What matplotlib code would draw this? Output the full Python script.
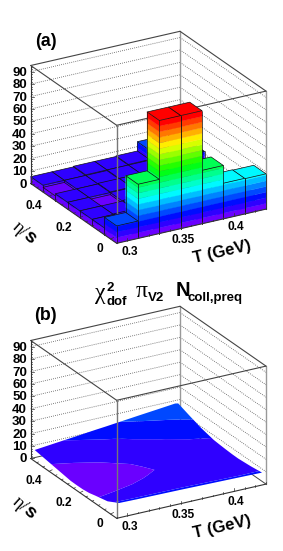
import colorsys
import numpy as np
import matplotlib
matplotlib.use('Agg')
import matplotlib.pyplot as plt

plt.rcParams['font.family'] = ['Liberation Sans', 'DejaVu Sans']

# bin edges of the lego plot
t_edges = [0.29, 0.31, 0.33, 0.35, 0.37, 0.39, 0.41, 0.43]
eta_edges = [-0.04, 0.04, 0.12, 0.20, 0.28, 0.36, 0.44, 0.52]

# panel (a) heights, rows are eta (front to back), columns are T
lego = [
    [14.0, 43.6, 91.0, 91.0, 43.0, 28.7, 28.4],
    [5.5, 6.0, 6.5, 6.0, 6.5, 6.0, 6.5],
    [5.5, 5.5, 6.0, 6.5, 6.0, 6.5, 6.0],
    [5.5, 3.8, 5.5, 7.0, 6.5, 6.0, 6.0],
    [5.5, 5.5, 6.0, 6.0, 6.0, 6.5, 6.0],
    [3.8, 5.5, 5.5, 6.0, 6.0, 6.5, 12.0],
    [5.5, 5.5, 6.0, 6.0, 6.5, 14.0, 6.5],
]

# panel (b) surface read at these nodes
surf_t = [0.293, 0.31, 0.33, 0.35, 0.36, 0.37, 0.39, 0.41, 0.427]
surf_eta = [-0.035, 0.04, 0.12, 0.16, 0.20, 0.24, 0.28, 0.36, 0.44, 0.515]
surf_z = [
    [11.3, 11.0, 10.8, 10.6, 10.45, 10.3, 10.0, 9.7, 9.4],
    [6.2, 6.2, 6.3, 6.5, 6.55, 6.6, 6.8, 7.2, 8.2],
    [3.9, 4.4, 4.9, 5.3, 5.45, 5.6, 5.9, 6.6, 7.4],
    [2.6, 3.2, 4.0, 4.8, 5.0, 5.2, 5.8, 6.7, 7.5],
    [2.0, 2.5, 3.2, 4.1, 4.55, 4.9, 5.8, 6.9, 7.8],
    [1.9, 2.4, 3.3, 4.3, 4.8, 5.3, 6.4, 7.4, 8.2],
    [2.0, 2.6, 3.6, 4.6, 5.2, 5.9, 7.1, 8.0, 8.7],
    [3.6, 4.2, 4.9, 6.2, 6.9, 7.6, 8.9, 10.2, 11.2],
    [5.2, 5.6, 6.9, 8.4, 9.1, 9.9, 11.6, 13.2, 14.8],
    [6.7, 8.2, 9.9, 11.7, 12.5, 13.4, 15.2, 16.9, 18.4],
]

z_ticks = [0, 10, 20, 30, 40, 50, 60, 70, 80, 90]
t_ticks = [0.30, 0.35, 0.40]
t_tick_labels = ['0.3', '0.35', '0.4']
eta_ticks = [0.0, 0.2, 0.4]
eta_tick_labels = ['0', '0.2', '0.4']

z_max = 95.0
band = 4.55
n_bands = 20


def level_color(k):
    return colorsys.hsv_to_rgb(265.0 / 360 * (1 - k / (n_bands - 1)), 1, 1)


fig = plt.figure(figsize=(2.83, 5.51), dpi=100)
ax = fig.add_axes([0, 0, 1, 1])
ax.set_xlim(0, 283)
ax.set_ylim(551, 0)
ax.axis('off')

# everything is painted back to front, so each mark gets the next zorder
order = [10]


def next_z():
    order[0] += 1
    return order[0]


def make_proj(y0):
    def proj(t, eta, z=0.0):
        u = (np.asarray(t) - 0.29) / 0.14
        v = (np.asarray(eta) + 0.04) / 0.56
        x = 116.7 + 149.3 * u - 86.0 * v
        y = y0 - 34.2 * u - 59.8 * v - np.asarray(z) / z_max * 118.0
        return x, y
    return proj


def seg(proj, a, b, **kw):
    xa, ya = proj(*a)
    xb, yb = proj(*b)
    ax.plot([xa, xb], [ya, yb], solid_capstyle='round', zorder=next_z(), **kw)


def draw_box(proj):
    t0, t1 = 0.29, 0.43
    e0, e1 = -0.04, 0.52
    # dotted grid on the two back walls
    for z in z_ticks[1:]:
        seg(proj, (t0, e1, z), (t1, e1, z), color='#555555', lw=0.6, ls=(0, (1, 1.5)))
        seg(proj, (t1, e1, z), (t1, e0, z), color='#555555', lw=0.6, ls=(0, (1, 1.5)))
    # back verticals and floor
    seg(proj, (t1, e1, 0), (t1, e1, z_max), color='#999999', lw=1.0)
    seg(proj, (t1, e0, 0), (t1, e0, z_max), color='#999999', lw=1.0)
    seg(proj, (t0, e1, 0), (t1, e1, 0), color='#444444', lw=0.7)
    seg(proj, (t1, e1, 0), (t1, e0, 0), color='#444444', lw=0.7)
    # top frame
    seg(proj, (t0, e1, z_max), (t1, e1, z_max), color='#444444', lw=0.8)
    seg(proj, (t1, e1, z_max), (t1, e0, z_max), color='#444444', lw=0.8)
    seg(proj, (t0, e1, z_max), (t0, e0, z_max), color='#444444', lw=0.8)
    seg(proj, (t0, e0, z_max), (t1, e0, z_max), color='#444444', lw=0.8)


def front_vertical(proj):
    seg(proj, (0.29, -0.04, 0), (0.29, -0.04, z_max), color='#777777', lw=1.0)


def draw_axes(proj, y_shift):
    t0, t1 = 0.29, 0.43
    e0, e1 = -0.04, 0.52
    seg(proj, (t0, e0, 0), (t1, e0, 0), color='#333333', lw=0.8)
    seg(proj, (t0, e0, 0), (t0, e1, 0), color='#333333', lw=0.8)
    seg(proj, (t0, e1, 0), (t0, e1, z_max), color='#333333', lw=0.8)
    for t in np.arange(0.29, 0.431, 0.01):
        x, y = proj(t, e0)
        ln = 3.0 if abs(t * 20 - round(t * 20)) < 1e-6 else 1.6
        ax.plot([x, x], [y, y - ln], color='#333333', lw=0.5, zorder=next_z())
    for e in np.arange(0.0, 0.521, 0.04):
        x, y = proj(t0, e)
        ln = 3.0 if abs(e * 5 - round(e * 5)) < 1e-6 else 1.6
        ax.plot([x, x + ln], [y, y - ln * 0.5], color='#333333', lw=0.5, zorder=next_z())
    x_left, _ = proj(t0, e1)
    for z in np.arange(0, 95, 2):
        _, y = proj(t0, e1, z)
        ln = 3.0 if z % 10 == 0 else 1.2
        ax.plot([x_left, x_left + ln], [y, y], color='#333333', lw=0.5, zorder=next_z())
    for z in z_ticks:
        _, y = proj(t0, e1, z)
        ax.text(27, y + 1.0, str(z), ha='right', va='center', fontsize=9.5, fontweight='bold')
    for t, lab in zip(t_ticks, t_tick_labels):
        x, y = proj(t, e0)
        ax.text(x + 2.3, y + 11, lab, ha='center', va='center', fontsize=8.6, fontweight='bold')
    for e, lab in zip(eta_ticks, eta_tick_labels):
        x, y = proj(t0, e)
        ax.text(x - 7.5, y + 10, lab, ha='right', va='center', fontsize=8.6, fontweight='bold')
    ax.text(221.7, 251.7 + y_shift, 'T (GeV)', ha='center', va='center', rotation=13,
            rotation_mode='anchor', fontsize=12, fontweight='bold')
    ax.text(20, 229 + y_shift, 'η/', ha='center', va='center', rotation=-42,
            rotation_mode='anchor', fontsize=13, family='Liberation Serif')
    ax.text(29, 237.5 + y_shift, 's', ha='center', va='center', rotation=-42,
            rotation_mode='anchor', fontsize=14, fontweight='bold')


def draw_bar(proj, i, j, h):
    t0, t1 = t_edges[i], t_edges[i + 1]
    e0, e1 = eta_edges[j], eta_edges[j + 1]
    k_top = int(min(h / band, n_bands - 1))
    # side faces, one strip per colour level
    for k in range(k_top + 1):
        z0 = k * band
        z1 = min((k + 1) * band, h)
        col = level_color(k)
        for a, b in (((t0, e1), (t0, e0)), ((t0, e0), (t1, e0))):
            xs, ys = zip(proj(*a, z0), proj(*b, z0), proj(*b, z1), proj(*a, z1))
            ax.fill(xs, ys, facecolor=col, edgecolor=col, lw=0.25, zorder=next_z())
    xs, ys = zip(proj(t0, e0, h), proj(t1, e0, h), proj(t1, e1, h), proj(t0, e1, h))
    ax.fill(xs, ys, facecolor=level_color(k_top), edgecolor='#111111', lw=0.5,
            joinstyle='round', zorder=next_z())
    for a in ((t0, e1), (t0, e0), (t1, e0)):
        seg(proj, (*a, 0), (*a, h), color='#111111', lw=0.5)


# panel (a)
proj_a = make_proj(243.3)
draw_box(proj_a)
for j in range(len(lego) - 1, -1, -1):
    if j == 0:
        front_vertical(proj_a)
    for i in range(len(lego[j]) - 1, -1, -1):
        draw_bar(proj_a, i, j, lego[j][i])
draw_axes(proj_a, 0)
ax.text(45.7, 41, '(a)', ha='center', va='center', fontsize=12.8, fontweight='bold')

# panel (b)
proj_b = make_proj(518.3)
draw_box(proj_b)
tt, ee = np.meshgrid(surf_t, surf_eta)
px, py = proj_b(tt, ee, np.array(surf_z))
levels = [band * k for k in range(5)]
ax.contourf(px, py, np.array(surf_z), levels=levels,
            colors=[level_color(k) for k in range(4)], antialiased=True, zorder=next_z())
front_vertical(proj_b)
draw_axes(proj_b, 275)
ax.text(45.7, 315, '(b)', ha='center', va='center', fontsize=12.8, fontweight='bold')

# labels between the panels
ax.text(100.7, 293, 'χ', ha='center', va='center', fontsize=17, family='Liberation Serif')
ax.text(110, 287.7, '2', ha='center', va='center', fontsize=9.5, fontweight='bold')
ax.text(117, 301.7, 'dof', ha='center', va='center', fontsize=9.5, fontweight='bold')
ax.text(141.7, 291.7, 'π', ha='center', va='center', fontsize=17, family='Liberation Serif')
ax.text(156, 297.7, 'V2', ha='center', va='center', fontsize=9.5, fontweight='bold')
ax.text(182.7, 290, 'N', ha='center', va='center', fontsize=14.5, fontweight='bold')
ax.text(215, 298.3, 'coll,preq', ha='center', va='center', fontsize=9.5, fontweight='bold')

fig.savefig('out.png', dpi=100)
